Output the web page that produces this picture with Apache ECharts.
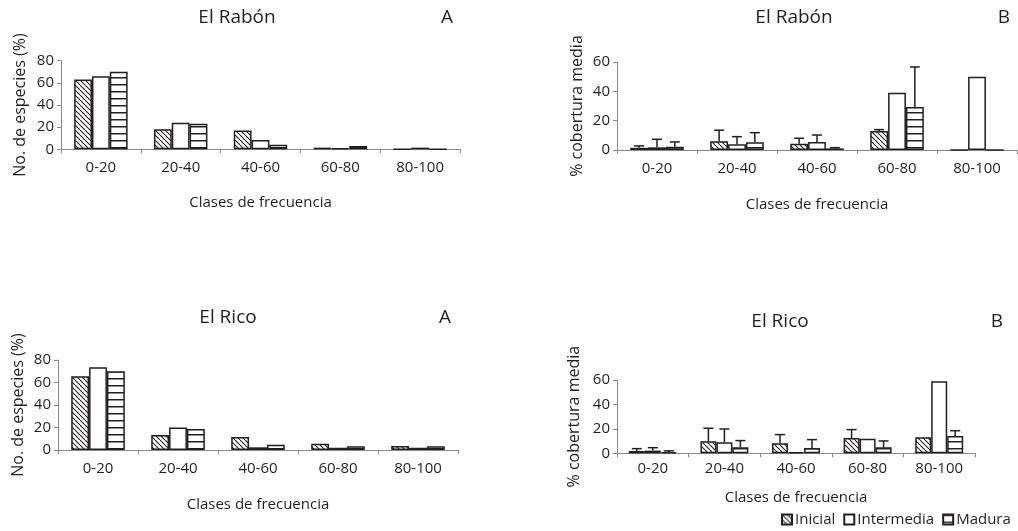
<!DOCTYPE html>
<html>
<head>
<meta charset="utf-8">
<script src="https://cdn.jsdelivr.net/npm/echarts@6/dist/echarts.min.js"></script>
<style>html,body{margin:0;padding:0;background:#fff}#c{width:1018px;height:531px}</style>
</head>
<body>
<div id="c"></div>
<script>
// ---- data ----
const categories = ['0-20', '20-40', '40-60', '60-80', '80-100'];
const seriesNames = ['Inicial', 'Intermedia', 'Madura'];

// El Rabón A : No. de especies (%)
const rabonA_inicial    = [63, 18, 17, 1.5, 0];
const rabonA_intermedia = [66, 24, 8.5, 1, 1.5];
const rabonA_madura     = [70, 23, 4, 3, 0];

// El Rabón B : % cobertura media (mean) and upper error
const rabonB_inicial    = [1.5, 6, 4.3, 13, 0];
const rabonB_intermedia = [1.8, 3.9, 5.5, 39, 50];
const rabonB_madura     = [2.3, 5.2, 1.1, 29.3, 0];
const rabonB_inicial_err    = [1.3, 7.5, 3.7, 0.9, 0];
const rabonB_intermedia_err = [5.5, 5.2, 4.7, 0, 0];
const rabonB_madura_err     = [3.2, 6.6, 0.5, 27.3, 0];

// El Rico A
const ricoA_inicial    = [65.5, 13.3, 11.6, 5.6, 3.6];
const ricoA_intermedia = [73.5, 20, 2.4, 2, 2];
const ricoA_madura     = [70, 18.7, 4.7, 3.3, 3.3];

// El Rico B
const ricoB_inicial    = [1.9, 9.8, 8.2, 12.5, 13.1];
const ricoB_intermedia = [2.2, 9, 0.8, 12, 59];
const ricoB_madura     = [1, 4.9, 4.4, 4.9, 14.2];
const ricoB_inicial_err    = [1.9, 10.7, 7.1, 6.9, 0];
const ricoB_intermedia_err = [2.4, 10.9, 0, 0, 0];
const ricoB_madura_err     = [1, 5.5, 6.8, 5.2, 4.3];

const yTicksA = { max: 80, interval: 20 };
const yTicksB = { max: 60, interval: 20 };

// ---- styles ----
const INK = '#231f20';
const AXIS = '#8a8a8a';
const FONT = 'Open Sans';
const GAP = 0.33;

function hatchPattern() {
  const s = 5;
  const c = document.createElement('canvas');
  c.width = s; c.height = s;
  const g = c.getContext('2d');
  g.fillStyle = '#fff'; g.fillRect(0, 0, s, s);
  g.strokeStyle = INK; g.lineWidth = 1.1;
  for (let k = -1; k <= 1; k++) {
    g.beginPath(); g.moveTo(k * s, 0); g.lineTo(k * s + s, s); g.stroke();
  }
  return c;
}
function stripePattern() {
  const w = 4, h = 7;
  const c = document.createElement('canvas');
  c.width = w; c.height = h;
  const g = c.getContext('2d');
  g.fillStyle = '#fff'; g.fillRect(0, 0, w, h);
  g.fillStyle = INK; g.fillRect(0, 0, w, 1.5);
  return c;
}
const fills = [
  { image: hatchPattern(), repeat: 'repeat' },
  '#ffffff',
  { image: stripePattern(), repeat: 'repeat' }
];

const grids = [
  { left: 61, top: 60.7, width: 399, height: 88.6 },
  { left: 617, top: 62, width: 400, height: 88 },
  { left: 58, top: 360, width: 400, height: 90 },
  { left: 617, top: 380, width: 358, height: 73.3 }
];
const xNameGap = [46, 47, 47, 37];
const xLabelMargin = [11, 11, 11, 8];
const yNames = ['No. de especies (%)', '% cobertura media', 'No. de especies (%)', '% cobertura media'];
const yNameGap = [33, 32, 32, 35];
const yTicks = [yTicksA, yTicksB, yTicksA, yTicksB];

const xAxis = grids.map((g, i) => ({
  type: 'category', gridIndex: i, data: categories,
  name: 'Clases de frecuencia', nameLocation: 'middle', nameGap: xNameGap[i],
  nameTextStyle: { fontFamily: FONT, fontSize: 15, color: INK },
  axisLine: { lineStyle: { color: AXIS, width: 1 } },
  axisTick: { show: true, length: 4, lineStyle: { color: AXIS } },
  axisLabel: { fontFamily: FONT, fontSize: 15, color: INK, margin: xLabelMargin[i] },
  splitLine: { show: false }
}));
const yAxis = grids.map((g, i) => ({
  type: 'value', gridIndex: i, min: 0, max: yTicks[i].max, interval: yTicks[i].interval,
  name: yNames[i], nameLocation: 'middle', nameGap: yNameGap[i], nameRotate: 90,
  nameTextStyle: { fontFamily: FONT, fontSize: 16, color: INK },
  axisLine: { show: true, lineStyle: { color: AXIS, width: 1 } },
  axisTick: { show: true, length: 4, lineStyle: { color: AXIS } },
  axisLabel: { fontFamily: FONT, fontSize: 15, color: INK, margin: 7 },
  splitLine: { show: false }
}));

const series = [];
function addBars(gi, arrs) {
  arrs.forEach((vals, k) => {
    series.push({
      name: seriesNames[k], type: 'bar', xAxisIndex: gi, yAxisIndex: gi,
      data: vals, barGap: '0%', barCategoryGap: (GAP * 100) + '%',
      itemStyle: { color: fills[k], borderColor: INK, borderWidth: 1.5 },
      emphasis: { disabled: true }, animation: false, z: 2
    });
  });
}
function addErr(gi, means, errs, k) {
  series.push({
    name: 'err-' + gi + '-' + k, type: 'custom', xAxisIndex: gi, yAxisIndex: gi,
    data: means.map((m, i) => [i, m, errs[i]]),
    z: 5, animation: false, silent: true,
    renderItem: function (params, api) {
      const ci = api.value(0), m = api.value(1), sd = api.value(2);
      if (!sd) return null;
      const base = api.coord([ci, m]);
      const top = api.coord([ci, m + sd]);
      const band = api.size([1, 0])[0];
      const bw = band * (1 - GAP) / 3;
      const x = base[0] + (k - 1) * bw;
      const st = { stroke: INK, lineWidth: 1.5 };
      return {
        type: 'group', children: [
          { type: 'line', shape: { x1: x, y1: base[1], x2: x, y2: top[1] }, style: st },
          { type: 'line', shape: { x1: x - 5, y1: top[1], x2: x + 5, y2: top[1] }, style: st }
        ]
      };
    }
  });
}

addBars(0, [rabonA_inicial, rabonA_intermedia, rabonA_madura]);
addBars(1, [rabonB_inicial, rabonB_intermedia, rabonB_madura]);
addBars(2, [ricoA_inicial, ricoA_intermedia, ricoA_madura]);
addBars(3, [ricoB_inicial, ricoB_intermedia, ricoB_madura]);
addErr(1, rabonB_inicial, rabonB_inicial_err, 0);
addErr(1, rabonB_intermedia, rabonB_intermedia_err, 1);
addErr(1, rabonB_madura, rabonB_madura_err, 2);
addErr(3, ricoB_inicial, ricoB_inicial_err, 0);
addErr(3, ricoB_intermedia, ricoB_intermedia_err, 1);
addErr(3, ricoB_madura, ricoB_madura_err, 2);

const tStyle = { fontFamily: FONT, fontSize: 19, fontWeight: 'normal', color: INK };
function title(text, x, y) {
  return { text: text, left: x, top: y, textAlign: 'center', textVerticalAlign: 'middle', padding: 0, textStyle: tStyle };
}

const option = {
  backgroundColor: '#fff',
  animation: false,
  title: [
    title('El Rabón', 237, 18), title('A', 447, 18),
    title('El Rabón', 794, 18), title('B', 1004, 18),
    title('El Rico', 228, 318), title('A', 445, 318),
    title('El Rico', 780, 322), title('B', 997, 322)
  ],
  legend: {
    data: seriesNames, left: 781, top: 512, itemWidth: 10, itemHeight: 10, itemGap: 8,
    icon: 'rect', padding: 0,
    textStyle: { fontFamily: FONT, fontSize: 15, color: INK, padding: [0, 0, 0, -2] },
    selectedMode: false
  },
  grid: grids,
  xAxis: xAxis,
  yAxis: yAxis,
  series: series
};

const chart = echarts.init(document.getElementById('c'), null, { renderer: 'canvas' });
chart.setOption(option);
</script>
</body>
</html>
